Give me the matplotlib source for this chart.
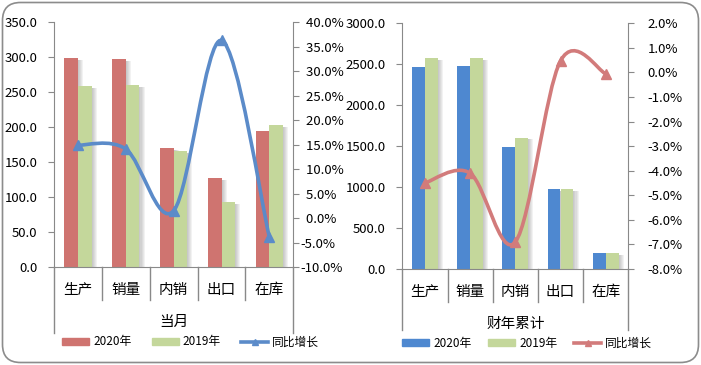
import matplotlib
matplotlib.use("Agg")
import matplotlib.pyplot as plt
from matplotlib.path import Path
from matplotlib.patches import PathPatch, FancyBboxPatch, Patch
from matplotlib.lines import Line2D
from matplotlib.transforms import blended_transform_factory
import matplotlib.patheffects as pe

plt.rcParams['font.family'] = ['Noto Sans CJK SC', 'DejaVu Sans']
plt.rcParams['axes.unicode_minus'] = False

categories = ["生产", "销量", "内销", "出口", "在库"]

# 当月
month_2020 = [299, 297.5, 170, 127, 194.5]
month_2019 = [259, 260, 166, 93, 203]
month_growth = [14.9, 14.1, 1.5, 36.3, -3.9]

# 财年累计
fy_2020 = [2466, 2479, 1494, 977, 195]
fy_2019 = [2576, 2576, 1604, 977, 195]
fy_growth = [-4.5, -4.1, -6.9, 0.47, -0.05]

W, H = 701, 365
AXIS_GREY = "#898989"


def smooth_path(xs, ys):
    # Excel style smoothed line (cubic bezier through the points)
    n = len(xs)
    verts = [(xs[0], ys[0])]
    codes = [Path.MOVETO]
    for i in range(n - 1):
        a = i - 1 if i > 0 else i
        d = i + 2 if i + 2 < n else i + 1
        c1 = (xs[i] + (xs[i + 1] - xs[a]) / 6, ys[i] + (ys[i + 1] - ys[a]) / 6)
        c2 = (xs[i + 1] - (xs[d] - xs[i]) / 6, ys[i + 1] - (ys[d] - ys[i]) / 6)
        verts += [c1, c2, (xs[i + 1], ys[i + 1])]
        codes += [Path.CURVE4] * 3
    return Path(verts, codes)


def pct_fmt(v, pad_pos):
    s = f"{v:.1f}%"
    if pad_pos and v >= 0:
        s = "  " + s
    return s


# soft shadow to the right of each bar
SHADOW = [pe.SimplePatchShadow(offset=(0.75 * k, -1.2), shadow_rgbFace="#707070", alpha=0.09)
          for k in range(1, 6)] + [pe.Normal()]


def panel(fig, box, v2020, v2019, growth, c2020, c2019, cline,
          ylim, yticks, plim, pticks, group, sep_len, outer_len,
          rpad, pad_pos, leg_x, leg_y, colsp):
    x0, y0, x1, y1 = box
    ax = fig.add_axes([x0 / W, 1 - y1 / H, (x1 - x0) / W, (y1 - y0) / H])
    xs = list(range(len(categories)))
    bw = 0.285
    b1 = ax.bar([x - bw / 2 for x in xs], v2020, bw, color=c2020, zorder=2)
    b2 = ax.bar([x + bw / 2 for x in xs], v2019, bw, color=c2019, zorder=2)
    for b in list(b1) + list(b2):
        b.set_path_effects(SHADOW)
    ax.set_xlim(-0.5, len(categories) - 0.5)
    ax.set_ylim(*ylim)
    ax.set_yticks(yticks)
    ax.set_yticklabels([f"{v:.1f}" for v in yticks])
    ax.set_xticks([])
    for s in ["top", "right"]:
        ax.spines[s].set_visible(False)
    for s in ["left", "bottom"]:
        ax.spines[s].set_color(AXIS_GREY)
        ax.spines[s].set_zorder(5)
    ax.tick_params(axis="y", direction="out", length=4, color=AXIS_GREY,
                   labelsize=9.5, pad=8)

    ax2 = ax.twinx()
    ax2.set_ylim(*plim)
    ax2.set_yticks(pticks)
    ax2.set_yticklabels([pct_fmt(v, pad_pos) for v in pticks])
    for s in ["top", "left", "bottom"]:
        ax2.spines[s].set_visible(False)
    ax2.spines["right"].set_color(AXIS_GREY)
    ax2.tick_params(axis="y", direction="out", length=4, color=AXIS_GREY,
                    labelsize=9.5, pad=rpad)
    ax2.add_patch(PathPatch(smooth_path(xs, growth), facecolor="none",
                            edgecolor=cline, lw=2.6, capstyle="round", zorder=3))
    ax2.plot(xs, growth, linestyle="none", marker="^", ms=6.5, color=cline, zorder=4)

    # multi-level category axis
    hpx = y1 - y0
    tr = blended_transform_factory(ax.transData, ax.transAxes)
    for i in range(1, len(categories)):
        ax.plot([i - 0.5, i - 0.5], [0, -sep_len / hpx], transform=tr,
                color=AXIS_GREY, lw=1, clip_on=False)
    for xe in [-0.5, len(categories) - 0.5]:
        ax.plot([xe, xe], [0, -outer_len / hpx], transform=tr,
                color=AXIS_GREY, lw=1, clip_on=False)
    for i, c in enumerate(categories):
        ax.text(i, -23 / hpx, c, transform=tr, ha="center", va="center",
                fontsize=10.5)
    ax.text(0.5, -55 / hpx, group, transform=ax.transAxes, ha="center",
            va="center", fontsize=10.5)

    handles = [Patch(color=c2020, label="2020年"), Patch(color=c2019, label="2019年"),
               Line2D([], [], color=cline, lw=2.6, marker="^", ms=4, label="同比增长")]
    fig.legend(handles=handles, loc="center left", bbox_to_anchor=(leg_x / W, 1 - leg_y / H),
               ncol=3, frameon=False, fontsize=8.5, handlelength=2.3, handleheight=0.6,
               handletextpad=0.35, columnspacing=colsp, borderpad=0, borderaxespad=0)


fig = plt.figure(figsize=(W / 100, H / 100), dpi=100)

panel(fig, (54, 22.3, 293.3, 267), month_2020, month_2019, month_growth,
      "#CF7470", "#C4D79B", "#5B8BC9",
      (0, 350), [0, 50, 100, 150, 200, 250, 300, 350],
      (-10, 40), [-10, -5, 0, 5, 10, 15, 20, 25, 30, 35, 40],
      "当月", 33, 66, 1, True, 62, 342, 1.7)

panel(fig, (402.3, 23.3, 628.3, 269), fy_2020, fy_2019, fy_growth,
      "#4E88D0", "#C4D79B", "#D27B7B",
      (0, 3000), [0, 500, 1000, 1500, 2000, 2500, 3000],
      (-8, 2), [-8, -7, -6, -5, -4, -3, -2, -1, 0, 1, 2],
      "财年累计", 33, 61, 10, False, 402, 343, 1.4)

border = FancyBboxPatch((2.5, 2.5), W - 5, H - 5, boxstyle="round,pad=0,rounding_size=18",
                        transform=None, facecolor="none", edgecolor="#8c8c8c", lw=1.2)
fig.patches.append(border)

fig.savefig("out.png", dpi=100)
